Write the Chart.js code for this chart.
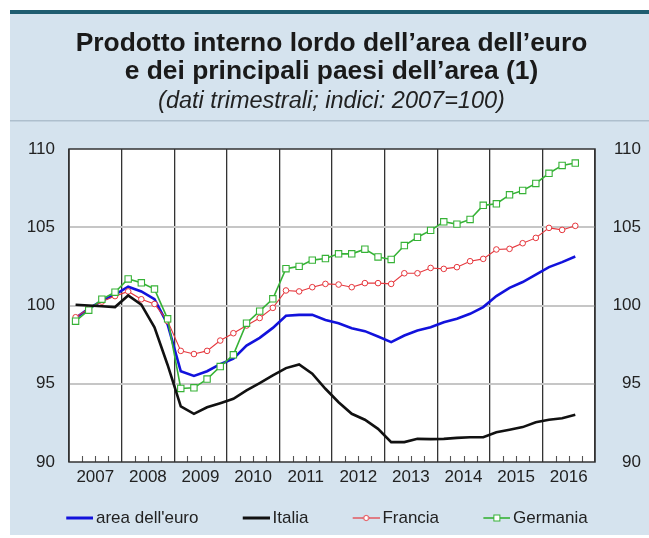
<!DOCTYPE html>
<html>
<head>
<meta charset="utf-8">
<script src="https://cdn.jsdelivr.net/npm/chart.js@4.4.1/dist/chart.umd.min.js"></script>
<style>
html,body{margin:0;padding:0;background:#fff;}
#wrap{width:649px;height:538px;position:relative;}
canvas{display:block;}
</style>
</head>
<body>
<div id="wrap"><canvas id="c" width="649" height="538"></canvas></div>
<script>
// ---- data (quarterly, index 2007=100), 2007Q1 .. 2016Q3 ----
const quarters = [
  '2007T1','2007T2','2007T3','2007T4','2008T1','2008T2','2008T3','2008T4',
  '2009T1','2009T2','2009T3','2009T4','2010T1','2010T2','2010T3','2010T4',
  '2011T1','2011T2','2011T3','2011T4','2012T1','2012T2','2012T3','2012T4',
  '2013T1','2013T2','2013T3','2013T4','2014T1','2014T2','2014T3','2014T4',
  '2015T1','2015T2','2015T3','2015T4','2016T1','2016T2','2016T3'
];
const years = ['2007','2008','2009','2010','2011','2012','2013','2014','2015','2016'];
const yTicks = [90, 95, 100, 105, 110];

const areaEuro = [
  99.2, 99.8, 100.3, 100.7,   101.2, 100.9, 100.4, 98.8,
  95.8, 95.5, 95.8, 96.25,    96.6, 97.44, 97.93, 98.57,
  99.35, 99.4, 99.4, 99.08,   98.87, 98.55, 98.36, 98.02,
  97.66, 98.08, 98.4, 98.61,  98.93, 99.15, 99.47, 99.9,
  100.6, 101.13, 101.5, 101.98, 102.45, 102.77, 103.13
];
const italia = [
  100.05, 100.0, 99.95, 99.9, 100.64, 100.05, 98.6, 96.2,
  93.55, 93.08, 93.5, 93.76,  94.04, 94.57, 95.04, 95.53,
  96.0, 96.23, 95.64, 94.68,  93.82, 93.08, 92.7, 92.12,
  91.27, 91.27, 91.48, 91.46, 91.48, 91.54, 91.58, 91.58,
  91.9, 92.06, 92.23, 92.54,  92.7, 92.8, 93.02
];
const francia = [
  99.25, 99.8, 100.25, 100.6, 100.9, 100.4, 100.1, 99.0,
  97.1, 96.9, 97.1, 97.76,    98.23, 98.72, 99.2, 99.85,
  100.96, 100.9, 101.17, 101.38, 101.34, 101.17, 101.43, 101.43,
  101.38, 102.06, 102.06, 102.4, 102.34, 102.45, 102.83, 102.98,
  103.58, 103.62, 103.98, 104.32, 104.96, 104.83, 105.09
];
const germania = [
  99.0, 99.7, 100.4, 100.85,  101.7, 101.45, 101.05, 99.15,
  94.7, 94.74, 95.3, 96.1,    96.85, 98.87, 99.64, 100.43,
  102.35, 102.5, 102.9, 103.0, 103.3, 103.3, 103.6, 103.1,
  102.94, 103.83, 104.36, 104.8, 105.35, 105.2, 105.5, 106.4,
  106.5, 107.07, 107.35, 107.8, 108.45, 108.95, 109.1
];
const seriesNames = ["area dell'euro", 'Italia', 'Francia', 'Germania'];

// ---- styling ----
const FONT = "'Liberation Sans', Arial, Helvetica, sans-serif";
const C_EURO = '#1212dc', C_ITA = '#111111', C_FRA = '#e6373d', C_GER = '#36b236';
const PER_YEAR = 4;
const nQ = years.length * PER_YEAR;

const LEG_BOX = 59.5;          // legend box width (includes spacing)
const LEG_PAD = 6;
const ICON_W = 71;             // icon image width; the visible 27px sample sits at its right end

function toPoints(arr) { return arr.map((v, i) => ({ x: i + 0.5, y: v })); }

function legendIcon(color, lw, marker) {
  const c = document.createElement('canvas');
  c.width = ICON_W; c.height = 12;
  const g = c.getContext('2d');
  const x0 = ICON_W - 27, xm = ICON_W - 13.5;
  g.strokeStyle = color; g.lineWidth = lw;
  g.beginPath(); g.moveTo(x0, 6); g.lineTo(ICON_W, 6); g.stroke();
  g.lineWidth = 1;
  if (marker === 'circle') {
    g.fillStyle = '#fff';
    g.beginPath(); g.arc(xm, 6, 2.6, 0, Math.PI * 2); g.fill(); g.stroke();
  } else if (marker === 'rect') {
    g.fillStyle = '#fff';
    g.fillRect(xm - 3, 3, 6, 6); g.strokeRect(xm - 3, 3, 6, 6);
  }
  return c;
}
const legendIcons = [
  legendIcon(C_EURO, 3, null),
  legendIcon(C_ITA, 3, null),
  legendIcon(C_FRA, 1.2, 'circle'),
  legendIcon(C_GER, 1.6, 'rect')
];

const backgroundPlugin = {
  id: 'bg',
  beforeDraw(chart) {
    const { ctx, chartArea: ca, width, height } = chart;
    ctx.save();
    ctx.fillStyle = '#ffffff'; ctx.fillRect(0, 0, width, height);
    ctx.fillStyle = '#d5e3ee'; ctx.fillRect(10, 14, width - 10, height - 17);
    ctx.fillStyle = '#1f5d70'; ctx.fillRect(10, 10, width - 10, 4);
    ctx.fillStyle = '#aebfcd'; ctx.fillRect(10, 120, width - 10, 1.5);
    ctx.fillStyle = '#ffffff'; ctx.fillRect(ca.left, ca.top, ca.right - ca.left, ca.bottom - ca.top);
    ctx.restore();
  },
  beforeDatasetsDraw(chart) {
    const { ctx, chartArea: ca } = chart;
    const xs = chart.scales.x;
    ctx.save();
    ctx.strokeStyle = '#555'; ctx.lineWidth = 1.1;
    for (let q = 1; q < nQ; q++) {
      if (q % PER_YEAR === 0) continue;
      const px = Math.round(xs.getPixelForValue(q)) + 0.5;
      ctx.beginPath(); ctx.moveTo(px, ca.bottom); ctx.lineTo(px, ca.bottom - 6); ctx.stroke();
    }
    ctx.restore();
  },
  afterDatasetsDraw(chart) {
    const { ctx, chartArea: ca } = chart;
    ctx.save();
    ctx.strokeStyle = '#333'; ctx.lineWidth = 1.5;
    ctx.strokeRect(ca.left, ca.top, ca.right - ca.left, ca.bottom - ca.top);
    ctx.restore();
  }
};

const tickFont = { family: FONT, size: 17 };

new Chart(document.getElementById('c'), {
  type: 'line',
  data: {
    datasets: [
      { label: seriesNames[0], data: toPoints(areaEuro), borderColor: C_EURO, borderWidth: 2.6, pointRadius: 0, order: 3 },
      { label: seriesNames[1], data: toPoints(italia), borderColor: C_ITA, borderWidth: 2.6, pointRadius: 0, order: 0 },
      { label: seriesNames[2], data: toPoints(francia), borderColor: C_FRA, borderWidth: 1.1,
        pointStyle: 'circle', pointRadius: 2.8, pointBorderWidth: 1, pointBackgroundColor: '#fff', pointBorderColor: C_FRA, order: 2 },
      { label: seriesNames[3], data: toPoints(germania), borderColor: C_GER, borderWidth: 1.6,
        pointStyle: 'rect', pointRadius: 4.5, pointBorderWidth: 1.1, pointBackgroundColor: '#fff', pointBorderColor: C_GER, order: 1 }
    ]
  },
  options: {
    responsive: false,
    animation: false,
    devicePixelRatio: 1,
    layout: { padding: { top: 0, left: 22, right: 8, bottom: 1.5 } },
    elements: { line: { tension: 0 } },
    scales: {
      x: {
        type: 'linear', min: 0, max: nQ,
        afterBuildTicks: s => { s.ticks = Array.from({ length: nQ + 1 }, (_, i) => ({ value: i })); },
        afterFit: s => { s.height = 41.5; },
        grid: { color: c => (c.tick && c.tick.value % PER_YEAR === 0) ? '#333' : 'rgba(0,0,0,0)', lineWidth: 1.3, drawTicks: false },
        border: { display: false },
        ticks: {
          autoSkip: false, maxRotation: 0, padding: 5, color: '#222', font: tickFont,
          callback: v => (v % PER_YEAR === PER_YEAR / 2) ? years[(v - PER_YEAR / 2) / PER_YEAR] : ''
        }
      },
      y: {
        position: 'left', min: yTicks[0], max: yTicks[yTicks.length - 1],
        afterBuildTicks: s => { s.ticks = yTicks.map(v => ({ value: v })); },
        afterFit: s => { s.width = 47; },
        grid: { color: c => (c.tick && (c.tick.value === yTicks[0] || c.tick.value === yTicks[yTicks.length - 1])) ? 'rgba(0,0,0,0)' : '#c6c6c6', lineWidth: 2, drawTicks: false },
        border: { display: false },
        ticks: { padding: 14, color: '#222', font: tickFont }
      },
      y2: {
        position: 'right', min: yTicks[0], max: yTicks[yTicks.length - 1],
        afterBuildTicks: s => { s.ticks = yTicks.map(v => ({ value: v })); },
        afterFit: s => { s.width = 46; },
        grid: { display: false, drawTicks: false },
        border: { display: false },
        ticks: { crossAlign: 'far', padding: 14, color: '#222', font: tickFont }
      }
    },
    plugins: {
      title: {
        display: true,
        text: ['Prodotto interno lordo dell\u2019area dell\u2019euro', 'e dei principali paesi dell\u2019area (1)'],
        font: { family: FONT, size: 26.4, weight: 'bold', lineHeight: '28px' },
        color: '#1a1a1a',
        padding: { top: 30, bottom: 0 }
      },
      subtitle: {
        display: true,
        text: '(dati trimestrali; indici: 2007=100)',
        font: { family: FONT, size: 23.5, style: 'italic', lineHeight: '28px' },
        color: '#222',
        padding: { top: 1, bottom: 34 }
      },
      legend: {
        position: 'bottom',
        align: 'start',
        labels: {
          usePointStyle: true,
          pointStyleWidth: LEG_BOX,
          padding: LEG_PAD,
          color: '#222',
          font: { family: FONT, size: 17 },
          generateLabels: chart => chart.data.datasets.map((ds, i) => ({
            text: ds.label, datasetIndex: i, pointStyle: legendIcons[i],
            fillStyle: 'rgba(0,0,0,0)', strokeStyle: 'rgba(0,0,0,0)', lineWidth: 0, hidden: false, fontColor: '#222'
          }))
        }
      },
      tooltip: { enabled: false }
    }
  },
  plugins: [backgroundPlugin]
});
</script>
</body>
</html>
